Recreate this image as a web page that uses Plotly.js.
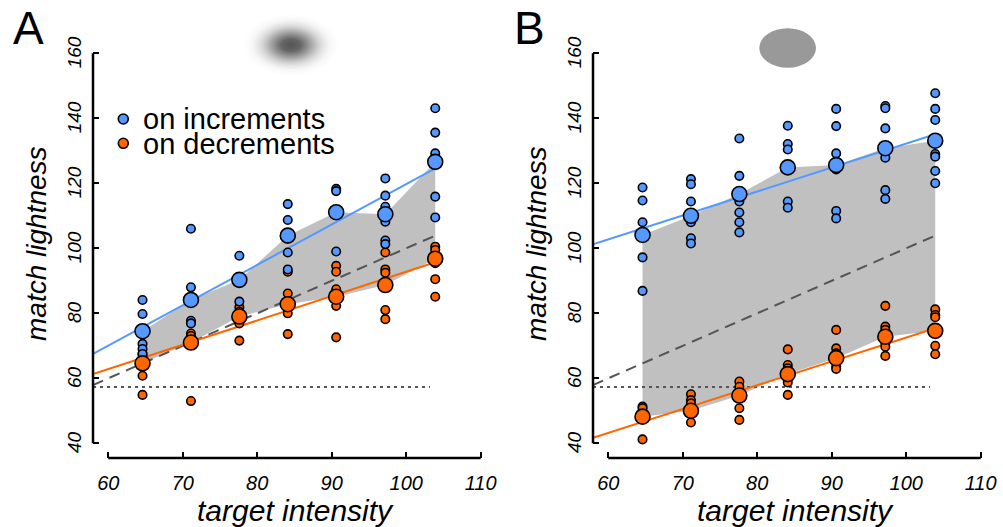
<!DOCTYPE html>
<html><head><meta charset="utf-8">
<script src="https://cdn.plot.ly/plotly-3.0.1.min.js"></script>
<style>html,body{margin:0;padding:0;background:#fff}#chart{width:1003px;height:527px}</style>
</head><body><div id="chart"></div>
<script>
// ---------- data ----------
const targetIntensity = [64.6, 71.1, 77.6, 84.1, 90.6, 97.2, 103.9];
const xTickVals = [60, 70, 80, 90, 100, 110];
const yTickVals = [40, 60, 80, 100, 120, 140, 160];

// Panel A (blurred target)
const A_incMeans = [74.5, 84.1, 90.3, 103.9, 111.1, 110.5, 126.6];
const A_decMeans = [64.6, 71.0, 79.0, 82.8, 85.1, 88.7, 96.8];
const A_incObs = [
  [84.1, 79.8, 70.6, 69.0, 67.5],
  [106.0, 88.0, 77.7, 76.9],
  [97.7, 83.6],
  [113.6, 108.7, 98.7, 93.5],
  [118.3, 117.6, 99.0],
  [121.5, 116.2, 112.8, 108.2, 102.4, 101.3],
  [143.1, 135.6, 129.2, 115.9, 109.5]
];
const A_decObs = [
  [67.5, 66.3, 60.8, 54.9],
  [73.8, 73.0, 53.0],
  [81.9, 80.5, 76.9, 71.6],
  [92.8, 86.1, 80.0, 73.6],
  [94.6, 92.8, 87.4, 82.3, 72.6],
  [98.7, 93.5, 92.5, 81.0, 78.2],
  [100.5, 99.5, 95.4, 90.5, 85.1]
];
const A_incFitY = [67.5, 124.6];
const A_decFitY = [61.3, 95.7];

// Panel B (sharp target)
const B_incMeans = [104.1, 110.0, 116.7, 124.9, 125.6, 130.8, 133.1];
const B_decMeans = [48.2, 50.0, 54.7, 61.3, 66.2, 72.8, 74.6];
const B_incObs = [
  [118.7, 114.7, 108.0, 97.2, 86.9],
  [121.3, 119.7, 114.4, 108.0, 103.1, 101.5],
  [133.8, 122.3, 114.4, 111.0, 108.0, 104.9],
  [137.7, 132.1, 130.4, 114.4, 112.5],
  [142.9, 137.6, 129.2, 124.3, 111.5, 109.2],
  [143.8, 143.1, 136.9, 127.9, 117.9, 115.2],
  [147.7, 142.9, 139.5, 129.0, 128.2, 123.8, 120.0]
];
const B_decObs = [
  [51.3, 50.8, 41.2],
  [55.1, 53.3, 52.3, 46.4],
  [59.0, 57.4, 50.8, 47.2],
  [68.9, 64.1, 63.1, 59.7, 58.7, 54.9],
  [74.9, 69.2, 67.7, 63.6, 62.9],
  [82.3, 75.9, 74.9, 70.8, 69.7, 66.9],
  [81.2, 79.5, 78.8, 70.0, 67.4]
];
const B_incFitY = [101.2, 135.1];
const B_decFitY = [41.7, 75.4];

const fitX = [57.95, 103.9];
const identityX = [57.95, 103.9];
const floorX = [57.95, 103.2];
const floorY = [57.3, 57.3];

// ---------- styling ----------
const BLUE = '#5599ff', ORANGE = '#ff6600', GREY = '#c0c0c0', DARK = '#555555';
const FONT = 'Liberation Sans, Arial, Helvetica, sans-serif';
const W = 1003, H = 527;
const px = v => v / W, py = v => 1 - v / H;

function flatten(xs, obs) {
  const X = [], Y = [];
  obs.forEach((col, i) => col.forEach(v => { X.push(xs[i]); Y.push(v); }));
  return {X, Y};
}

function panelTraces(xa, ya, incMeans, decMeans, incObs, decObs, incFit, decFit) {
  const t = [];
  t.push({x: targetIntensity.concat(targetIntensity.slice().reverse()),
          y: incMeans.concat(decMeans.slice().reverse()),
          type: 'scatter', mode: 'lines', fill: 'toself', fillcolor: GREY,
          line: {width: 0, color: GREY}, xaxis: xa, yaxis: ya, hoverinfo: 'skip'});
  t.push({x: floorX, y: floorY, type: 'scatter', mode: 'lines',
          line: {color: DARK, width: 2, dash: '3px,4px'}, xaxis: xa, yaxis: ya});
  t.push({x: identityX, y: identityX, type: 'scatter', mode: 'lines',
          line: {color: DARK, width: 2, dash: '11px,7px'}, xaxis: xa, yaxis: ya});
  t.push({x: fitX, y: incFit, type: 'scatter', mode: 'lines',
          line: {color: BLUE, width: 2}, xaxis: xa, yaxis: ya});
  t.push({x: fitX, y: decFit, type: 'scatter', mode: 'lines',
          line: {color: ORANGE, width: 2}, xaxis: xa, yaxis: ya});
  const d = flatten(targetIntensity, decObs), u = flatten(targetIntensity, incObs);
  t.push({x: d.X, y: d.Y, type: 'scatter', mode: 'markers',
          marker: {size: 8.5, color: ORANGE, line: {color: '#000', width: 1.6}}, xaxis: xa, yaxis: ya});
  t.push({x: u.X, y: u.Y, type: 'scatter', mode: 'markers',
          marker: {size: 8.5, color: BLUE, line: {color: '#000', width: 1.6}}, xaxis: xa, yaxis: ya});
  t.push({x: targetIntensity, y: decMeans, type: 'scatter', mode: 'markers',
          marker: {size: 15, color: ORANGE, line: {color: '#000', width: 1.6}}, xaxis: xa, yaxis: ya});
  t.push({x: targetIntensity, y: incMeans, type: 'scatter', mode: 'markers',
          marker: {size: 15, color: BLUE, line: {color: '#000', width: 1.6}}, xaxis: xa, yaxis: ya});
  return t;
}

const data = [].concat(
  panelTraces('x', 'y', A_incMeans, A_decMeans, A_incObs, A_decObs, A_incFitY, A_decFitY),
  panelTraces('x2', 'y2', B_incMeans, B_decMeans, B_incObs, B_decObs, B_incFitY, B_decFitY)
);

const xRange = [57.95, 111];
const yRange = [35.48, 162];
const yDomain = [py(458), py(46.8)];

function xAxis(domain, anchor) {
  return {domain: domain, range: xRange, anchor: anchor, showgrid: false, zeroline: false, showline: false,
          tickmode: 'array', tickvals: xTickVals, ticktext: xTickVals.map(String),
          ticks: 'inside', ticklen: 6, tickwidth: 2, tickcolor: '#000',
          ticklabelstandoff: 11,
          tickfont: {family: FONT, size: 20, style: 'italic', color: '#000'}};
}
function yAxis(anchor) {
  return {domain: yDomain, range: yRange, anchor: anchor, showgrid: false, zeroline: false, showline: false,
          tickmode: 'array', tickvals: yTickVals, ticktext: yTickVals.map(String),
          ticks: 'inside', ticklen: 6, tickwidth: 2, tickcolor: '#000',
          tickangle: -90, ticklabelstandoff: 7, ticklabelshift: 2,
          tickfont: {family: FONT, size: 19, style: 'italic', color: '#000'}};
}

const axLine = {color: '#000', width: 2.5};
const shapes = [
  {type: 'line', xref: 'x', yref: 'paper', x0: 60, x1: 110, y0: yDomain[0], y1: yDomain[0], line: axLine},
  {type: 'line', xref: 'x domain', yref: 'y', x0: 0, x1: 0, y0: 40, y1: 160, line: axLine},
  {type: 'line', xref: 'x2', yref: 'paper', x0: 60, x1: 110, y0: yDomain[0], y1: yDomain[0], line: axLine},
  {type: 'line', xref: 'x2 domain', yref: 'y2', x0: 0, x1: 0, y0: 40, y1: 160, line: axLine},
  // legend markers
  {type: 'circle', xref: 'paper', yref: 'paper', xsizemode: 'pixel', ysizemode: 'pixel',
   xanchor: px(123.3), yanchor: py(119), x0: -5, x1: 5, y0: -5, y1: 5,
   fillcolor: BLUE, line: {color: '#000', width: 1.6}},
  {type: 'circle', xref: 'paper', yref: 'paper', xsizemode: 'pixel', ysizemode: 'pixel',
   xanchor: px(123.3), yanchor: py(143.3), x0: -5, x1: 5, y0: -5, y1: 5,
   fillcolor: ORANGE, line: {color: '#000', width: 1.6}},
  // sharp target icon (panel B)
  {type: 'circle', xref: 'paper', yref: 'paper', x0: px(759.3), x1: px(816), y0: py(67.7), y1: py(28.3),
   fillcolor: '#999999', line: {width: 0}}
];

const blobSvg = '<svg xmlns="http://www.w3.org/2000/svg" width="100" height="64" viewBox="0 0 100 64">' +
  '<defs><radialGradient id="g" cx="50%" cy="50%" r="50%">' +
  '<stop offset="0" stop-color="#555555" stop-opacity="1"/>' +
  '<stop offset="0.2" stop-color="#5a5a5a" stop-opacity="0.93"/>' +
  '<stop offset="0.4" stop-color="#666666" stop-opacity="0.62"/>' +
  '<stop offset="0.6" stop-color="#7a7a7a" stop-opacity="0.3"/>' +
  '<stop offset="0.8" stop-color="#999999" stop-opacity="0.09"/>' +
  '<stop offset="1" stop-color="#bbbbbb" stop-opacity="0"/>' +
  '</radialGradient></defs><ellipse cx="50" cy="32" rx="50" ry="32" fill="url(#g)"/></svg>';

const images = [{
  source: 'data:image/svg+xml;base64,' + btoa(blobSvg),
  xref: 'paper', yref: 'paper', x: px(291), y: py(45), sizex: 96 / W, sizey: 62 / H,
  xanchor: 'center', yanchor: 'middle', sizing: 'stretch', layer: 'above'
}];

const ann = (text, x, y, size, extra) => Object.assign({
  text: text, xref: 'paper', yref: 'paper', x: x, y: y, showarrow: false,
  xanchor: 'center', yanchor: 'middle', font: {family: FONT, size: size, color: '#000'}
}, extra || {});
const ital = s => ({family: FONT, size: s, style: 'italic', color: '#000'});

const annotations = [
  ann('A', px(28), py(28), 46),
  ann('B', px(529), py(28), 46),
  ann('on increments', px(141), py(119), 29, {xanchor: 'left'}),
  ann('on decrements', px(141), py(144), 29, {xanchor: 'left'}),
  ann('target intensity', px(295), py(510), 30, {font: ital(30)}),
  ann('target intensity', px(795), py(510), 30, {font: ital(30)}),
  ann('match lightness', px(36), py(244), 28, {textangle: -90, font: ital(28)}),
  ann('match lightness', px(536), py(244), 28, {textangle: -90, font: ital(28)})
];

const layout = {
  width: W, height: H, margin: {l: 0, r: 0, t: 0, b: 0},
  paper_bgcolor: '#fff', plot_bgcolor: 'rgba(0,0,0,0)', showlegend: false,
  font: {family: FONT, color: '#000'},
  xaxis: xAxis([px(93), px(93 + 53.05 * 7.448)], 'y'),
  yaxis: yAxis('x'),
  xaxis2: xAxis([px(593), px(593 + 53.05 * 7.448)], 'y2'),
  yaxis2: yAxis('x2'),
  shapes: shapes, images: images, annotations: annotations
};

Plotly.newPlot('chart', data, layout, {displayModeBar: false, staticPlot: true});
</script>
</body></html>
